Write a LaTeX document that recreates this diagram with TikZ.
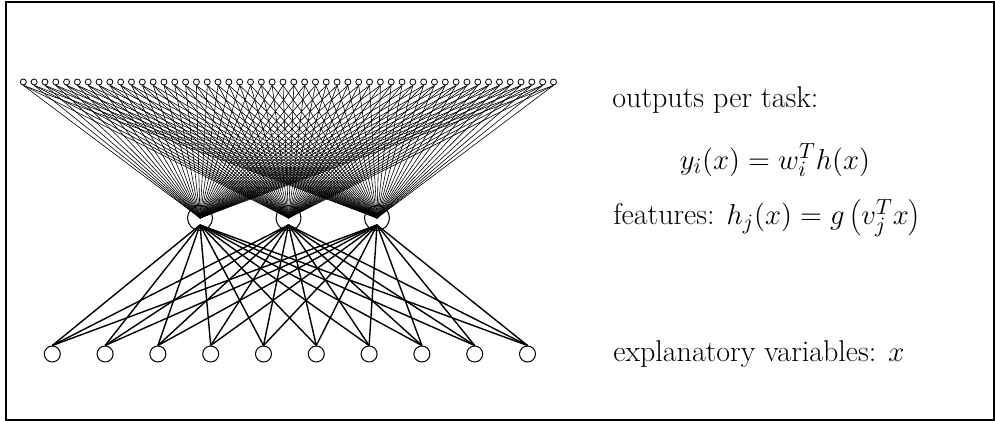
\documentclass[tikz,border=0pt]{standalone}
\usepackage{tikz}
\usetikzlibrary{calc}

\begin{document}
\begin{tikzpicture}[
    x=0.5pt, y=-0.5pt,
    font=\fontsize{15}{18}\selectfont,
    outunit/.style={draw, circle, inner sep=0pt, minimum size=3pt, line width=0.4pt},
    hidunit/.style={draw, circle, inner sep=0pt, minimum size=12.5pt, line width=0.5pt},
    inunit/.style={draw, circle, inner sep=0pt, minimum size=8pt, line width=0.5pt},
    upper/.style={line width=0.3pt},
    lower/.style={line width=0.7pt},
    lbl/.style={anchor=west, inner sep=0pt},
  ]
    \useasboundingbox (0,0) rectangle (995,421);
    \draw[line width=1pt] (6,2.5) rectangle (993.5,420);

    % units
    \foreach \i in {1,...,50}
      \node[outunit] (o\i) at ({23.3+10.82*(\i-1)},82) {};
    \foreach \j/\px in {1/200,2/288.5,3/377}
      \node[hidunit] (h\j) at (\px,218) {};
    \foreach \k in {1,...,10}
      \node[inunit] (x\k) at ({52.3+52.8*(\k-1)},354) {};
    \foreach \j in {1,2,3}
      \coordinate (hb\j) at ($(h\j.center)+(0,7)$);

    % connections
    \foreach \i in {1,...,50}
      \foreach \j in {1,2,3}
        \draw[upper] (o\i.south) -- (h\j.center);
    \foreach \k in {1,...,10}
      \foreach \j in {1,2,3}
        \draw[lower] (x\k.north) -- (hb\j);

    % labels
    \node[lbl] (outtxt) at (612,100) {outputs per task:};
    \node[inner sep=0pt] (outeq) at (775,160) {$y_i(x) = w_i^T h(x)$};
    \node[lbl] (feattxt) at (613,218) {features: $h_j(x) = g\left(v_j^T x\right)$};
    \node[lbl] (intxt) at (613,354) {explanatory variables: $x$};
  \end{tikzpicture}
\end{document}
